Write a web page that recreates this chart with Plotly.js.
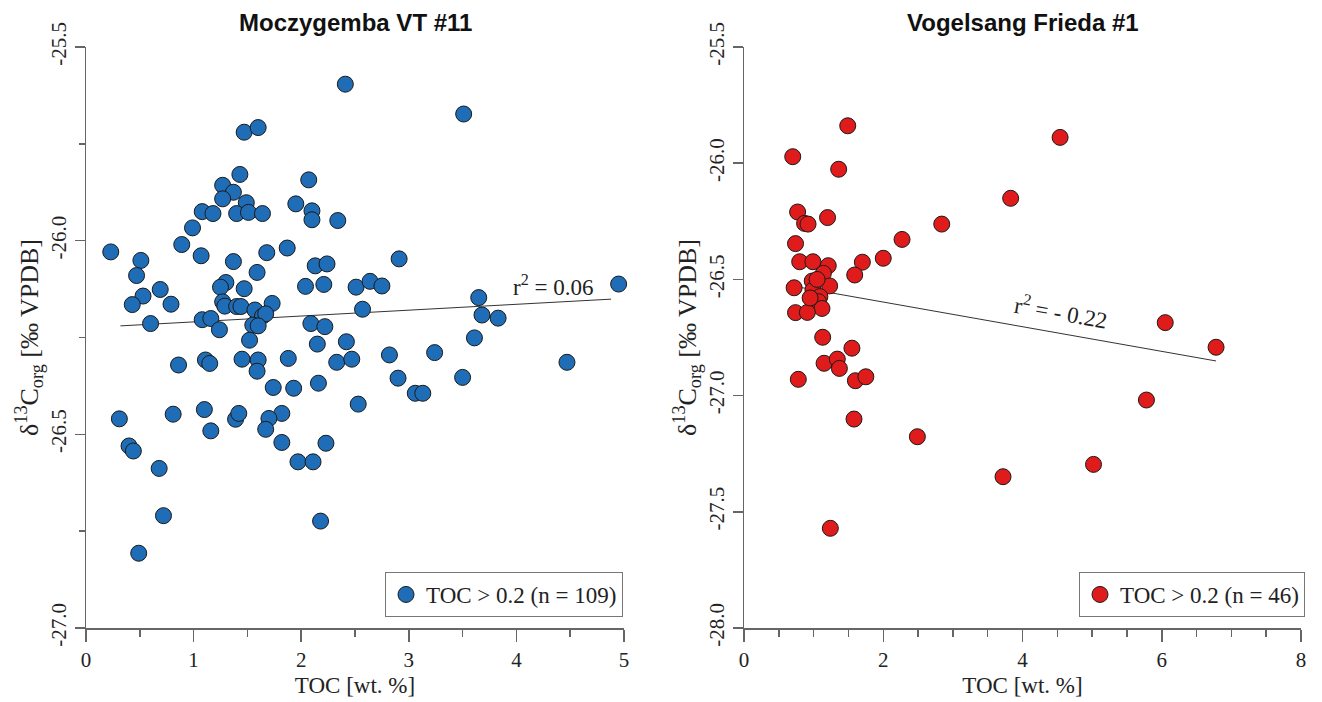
<!DOCTYPE html>
<html>
<head>
<meta charset="utf-8">
<script src="https://cdn.plot.ly/plotly-3.0.1.min.js"></script>
<style>html,body{margin:0;padding:0;background:#fff;}#chart{width:1322px;height:702px;}</style>
</head>
<body>
<div id="chart"></div>
<script>
// Moczygemba VT #11
const toc1 = [2.41,1.47,1.60,1.43,2.07,1.27,1.37,1.27,1.49,1.95,2.10,1.08,1.18,1.40,1.51,1.64,2.10,2.34,0.99,0.89,0.23,1.07,1.68,1.87,0.51,1.37,0.47,1.59,2.13,2.24,0.69,0.53,0.43,0.79,1.30,1.25,1.47,2.04,2.21,2.51,2.64,1.27,1.29,1.40,1.44,1.57,1.73,2.57,1.08,1.16,0.60,1.24,1.64,1.67,1.55,1.60,2.09,2.22,1.52,2.15,2.42,0.86,1.11,1.15,1.45,1.60,1.59,1.88,2.33,2.47,1.74,1.93,2.16,2.53,0.31,0.81,1.10,1.39,1.42,1.82,1.70,1.67,1.16,0.40,0.44,1.82,2.23,0.68,1.97,2.11,0.72,2.18,0.49,3.51,2.91,2.75,4.95,3.65,3.68,3.83,3.61,2.82,3.24,2.90,3.06,3.13,3.50,4.47];
const d13c1 = [-25.596,-25.72,-25.708,-25.829,-25.843,-25.857,-25.875,-25.892,-25.902,-25.905,-25.923,-25.925,-25.930,-25.930,-25.927,-25.930,-25.946,-25.948,-25.967,-26.010,-26.029,-26.039,-26.031,-26.019,-26.051,-26.054,-26.090,-26.082,-26.065,-26.060,-26.126,-26.143,-26.165,-26.164,-26.108,-26.120,-26.124,-26.118,-26.113,-26.120,-26.105,-26.158,-26.169,-26.170,-26.170,-26.179,-26.162,-26.177,-26.204,-26.201,-26.214,-26.230,-26.195,-26.189,-26.218,-26.220,-26.214,-26.222,-26.257,-26.267,-26.261,-26.321,-26.308,-26.317,-26.306,-26.308,-26.337,-26.304,-26.314,-26.306,-26.379,-26.381,-26.368,-26.422,-26.460,-26.448,-26.436,-26.461,-26.446,-26.446,-26.459,-26.487,-26.491,-26.530,-26.543,-26.521,-26.523,-26.588,-26.571,-26.571,-26.710,-26.724,-26.807,-25.673,-26.047,-26.117,-26.112,-26.147,-26.192,-26.200,-26.251,-26.295,-26.289,-26.355,-26.394,-26.394,-26.353,-26.314];
const fit1X = [0.32, 4.88];
const fit1Y = [-26.220, -26.151];
const xTicks1 = [0, 1, 2, 3, 4, 5];
const yTicks1 = [-27.0, -26.5, -26.0, -25.5];
const yTickText1 = ['-27.0', '-26.5', '-26.0', '-25.5'];

// Vogelsang Frieda #1
const toc2 = [1.49,0.70,1.36,0.77,0.87,0.92,1.20,0.74,2.27,0.80,0.99,1.21,1.70,2.00,1.59,1.14,0.98,1.23,0.72,0.99,1.09,1.07,1.12,0.74,0.91,1.13,1.55,1.15,1.34,1.37,0.78,1.60,1.75,2.84,1.58,2.49,1.24,4.54,3.83,6.05,6.78,5.78,5.02,3.72,1.05,0.95];
const d13c2 = [-25.839,-25.972,-26.026,-26.210,-26.259,-26.262,-26.234,-26.346,-26.328,-26.424,-26.424,-26.441,-26.426,-26.409,-26.481,-26.474,-26.507,-26.528,-26.536,-26.546,-26.574,-26.596,-26.625,-26.643,-26.642,-26.749,-26.796,-26.861,-26.843,-26.883,-26.930,-26.936,-26.919,-26.262,-27.101,-27.177,-27.571,-25.889,-26.151,-26.686,-26.792,-27.019,-27.296,-27.349,-26.50,-26.58];
const fit2X = [0.69, 6.78];
const fit2Y = [-26.528, -26.851];
const xTicks2 = [0, 2, 4, 6, 8];
const yTicks2 = [-28.0, -27.5, -27.0, -26.5, -26.0, -25.5];
const yTickText2 = ['-28.0', '-27.5', '-27.0', '-26.5', '-26.0', '-25.5'];

const titles = ['Moczygemba VT #11', 'Vogelsang Frieda #1'];
const legendNames = ['TOC > 0.2 (n = 109)', 'TOC > 0.2 (n = 46)'];
const r2Labels = ['r<sup>2</sup> = 0.06', 'r<sup>2</sup> = - 0.22'];

const serif = '"Liberation Serif", "Times New Roman", serif';
const sans = '"Liberation Sans", Arial, sans-serif';
const axCol = '#666';
const txtCol = '#222';

const traces = [
  {x: fit1X, y: fit1Y, xaxis: 'x', yaxis: 'y', mode: 'lines', line: {color: '#333', width: 1}, showlegend: false, hoverinfo: 'skip'},
  {x: toc1, y: d13c1, xaxis: 'x', yaxis: 'y', mode: 'markers', name: legendNames[0], legend: 'legend', cliponaxis: false,
   marker: {size: 16, color: '#1f6db6', line: {color: '#1a1a1a', width: 1}}},
  {x: fit2X, y: fit2Y, xaxis: 'x2', yaxis: 'y2', mode: 'lines', line: {color: '#333', width: 1}, showlegend: false, hoverinfo: 'skip'},
  {x: toc2, y: d13c2, xaxis: 'x2', yaxis: 'y2', mode: 'markers', name: legendNames[1], legend: 'legend2', cliponaxis: false,
   marker: {size: 16, color: '#e01b1b', line: {color: '#1a1a1a', width: 1}}}
];

const W = 1322, H = 702;
const yDom = [(H - 628) / H, (H - 47) / H];
const tickFont = {family: serif, size: 21, color: txtCol};

function xAx(dom, range, tv) {
  return {
    domain: dom, range: range, tickmode: 'array', tickvals: tv, ticktext: tv.map(String),
    ticks: 'outside', ticklen: 12, tickwidth: 1.5, tickcolor: axCol,
    showline: true, linecolor: axCol, linewidth: 1.5, showgrid: false, zeroline: false, automargin: false,
    tickfont: tickFont,
    minor: {dtick: 0.5, tick0: 0, ticks: 'outside', ticklen: 7, tickwidth: 1.5, tickcolor: axCol, showgrid: false},
    title: {text: 'TOC [wt. %]', font: {family: serif, size: 23, color: txtCol}, standoff: 6}
  };
}
function yAx(anchor, range, tv, tt, minor) {
  const a = {
    domain: yDom, range: range, tickmode: 'array', tickvals: tv, ticktext: tt,
    ticks: 'outside', ticklen: 10, tickwidth: 1.5, tickcolor: axCol,
    showline: true, linecolor: axCol, linewidth: 1.5, showgrid: false, zeroline: false, automargin: false,
    tickangle: -90, anchor: anchor,
    tickfont: tickFont,
    title: {text: 'δ<sup>13</sup>C<sub>org</sub> [‰ VPDB]', font: {family: serif, size: 26, color: txtCol}, standoff: 0}
  };
  if (minor) a.minor = {dtick: 0.25, tick0: 0, ticks: 'outside', ticklen: 6, tickwidth: 1.5, tickcolor: axCol, showgrid: false};
  return a;
}

const x1 = [86 / W, 624 / W];
const x2 = [744 / W, 1301 / W];

const legendBase = {yref: 'paper', xref: 'paper', xanchor: 'right', yanchor: 'bottom',
  bgcolor: '#fff', bordercolor: '#777', borderwidth: 1, font: {family: serif, size: 23, color: txtCol}, itemwidth: 30};

const layout = {
  width: W, height: H,
  margin: {l: 0, r: 0, t: 0, b: 0},
  font: {family: serif, size: 21, color: txtCol},
  paper_bgcolor: '#fff', plot_bgcolor: '#fff',
  showlegend: true,
  xaxis: Object.assign(xAx(x1, [0, 5], xTicks1), {anchor: 'y'}),
  yaxis: yAx('x', [-27, -25.5], yTicks1, yTickText1, true),
  xaxis2: Object.assign(xAx(x2, [0, 8], xTicks2), {anchor: 'y2'}),
  yaxis2: yAx('x2', [-28, -25.5], yTicks2, yTickText2, false),
  legend: Object.assign({}, legendBase, {x: 623 / W, y: (H - 617) / H}),
  legend2: Object.assign({}, legendBase, {x: 1305 / W, y: (H - 617) / H}),
  annotations: [
    {text: '<b>' + titles[0] + '</b>', xref: 'paper', yref: 'paper', x: (x1[0] + x1[1]) / 2, y: (H - 22) / H,
     xanchor: 'center', yanchor: 'middle', showarrow: false, font: {family: sans, size: 24, color: '#111'}},
    {text: '<b>' + titles[1] + '</b>', xref: 'paper', yref: 'paper', x: (x2[0] + x2[1]) / 2, y: (H - 22) / H,
     xanchor: 'center', yanchor: 'middle', showarrow: false, font: {family: sans, size: 24, color: '#111'}},
    {text: r2Labels[0], xref: 'x', yref: 'y', x: 4.34, y: -26.115, showarrow: false,
     font: {family: serif, size: 23, color: txtCol}},
    {text: r2Labels[1], xref: 'x2', yref: 'y2', x: 4.55, y: -26.64, showarrow: false, textangle: 10,
     font: {family: serif, size: 23, color: txtCol}}
  ]
};

Plotly.newPlot('chart', traces, layout, {displayModeBar: false, staticPlot: true});
</script>
</body>
</html>
